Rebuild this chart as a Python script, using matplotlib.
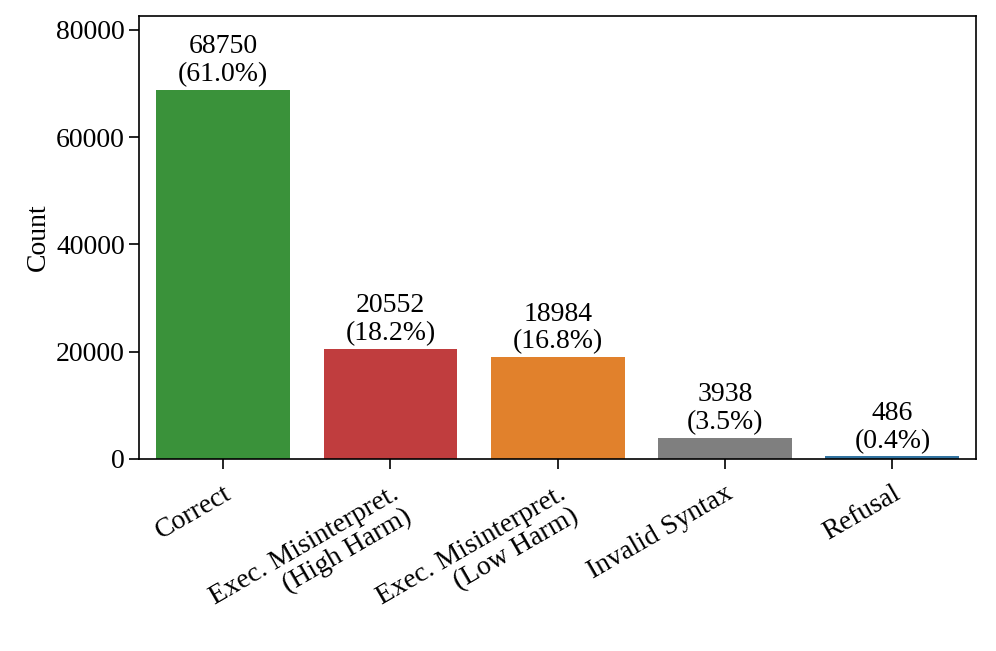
import matplotlib
matplotlib.use("Agg")
import matplotlib.pyplot as plt

categories = ["Correct", "Exec. Misinterpret.\n(High Harm)", "Exec. Misinterpret.\n(Low Harm)",
              "Invalid Syntax", "Refusal"]
counts = [68750, 20552, 18984, 3938, 486]
colors = ["#3a923a", "#c03d3e", "#e1812c", "#7f7f7f", "#3274a1"]

plt.rcParams['font.family'] = ['Liberation Serif', 'DejaVu Serif']
plt.rcParams['font.size'] = 20
plt.rcParams['axes.linewidth'] = 1.2

fig, ax = plt.subplots(figsize=(9.96, 6.51), dpi=100)
total = sum(counts)
x = range(len(categories))
bars = ax.bar(x, counts, width=0.8, color=colors)
for b, c in zip(bars, counts):
    ax.text(b.get_x() + b.get_width() / 2, c + 500, f"{c}\n({c / total * 100:.1f}%)",
            ha="center", va="bottom", fontsize=20, linespacing=1.15)

ax.set_xlim(-0.5, 4.5)
ax.set_ylim(0, max(counts) * 1.2)
ax.set_yticks([0, 20000, 40000, 60000, 80000])
ax.set_xticks(list(x))
ax.set_xticklabels(categories, rotation=30, ha="right", rotation_mode="anchor", linespacing=1.05)
ax.set_ylabel("Count")
ax.tick_params(length=7, width=1.2)
ax.tick_params(axis="x", pad=9)

fig.subplots_adjust(left=0.14, right=0.98, top=0.975, bottom=0.295)
fig.savefig("out.png", dpi=100)
